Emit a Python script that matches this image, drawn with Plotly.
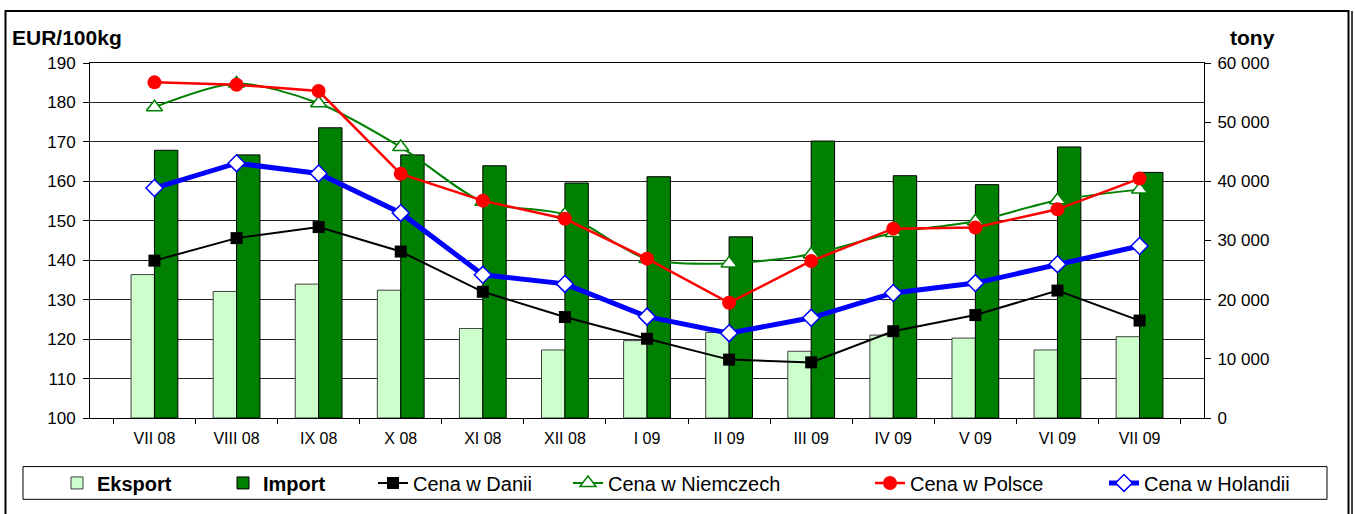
import plotly.graph_objects as go

categories = ["VII 08", "VIII 08", "IX 08", "X 08", "XI 08", "XII 08", "I 09",
              "II 09", "III 09", "IV 09", "V 09", "VI 09", "VII 09"]

eksport = [24240, 21390, 22630, 21600, 15130, 11500, 13070, 14460, 11280, 14010, 13510, 11500, 13740]
import_ = [45250, 44470, 49050, 44470, 42630, 39720, 40780, 30620, 46810, 40950, 39440, 45810, 41510]

cena_dania = [139.9, 145.6, 148.4, 142.2, 132.0, 125.6, 120.1, 114.8, 114.1, 122.0, 126.1, 132.3, 124.7]
cena_niemcy = [178.8, 184.8, 179.8, 168.7, 154.8, 151.6, 140.3, 139.2, 141.5, 146.9, 149.9, 155.2, 157.9]
cena_polska = [185.1, 184.5, 182.9, 161.9, 155.1, 150.5, 140.4, 129.2, 139.8, 148.0, 148.3, 152.9, 160.7]
cena_holandia = [158.3, 164.6, 162.0, 152.0, 136.3, 134.0, 125.7, 121.5, 125.4, 131.7, 134.2, 139.0, 143.6]

left_ticks = list(range(100, 191, 10))
right_ticks = list(range(0, 60001, 10000))

FONT = "Arial, Liberation Sans, sans-serif"

# plot area in pixels
W, H = 1355, 514
PL, PR, PT, PB = 90, 1204, 63, 421


def px_x(px):
    return (px - PL) / (PR - PL)


def px_y(py):
    return (PB - py) / (PB - PT)


fig = go.Figure()

fig.add_trace(go.Bar(x=categories, y=eksport, name="<b>Eksport</b>", yaxis="y",
                     marker=dict(color="#CCFFCC", line=dict(color="#404040", width=1)),
                     legend="legend"))
fig.add_trace(go.Bar(x=categories, y=import_, name="<b>Import</b>", yaxis="y",
                     marker=dict(color="#008000", line=dict(color="#000000", width=1)),
                     legend="legend2"))

fig.add_trace(go.Scatter(x=categories, y=cena_dania, name="Cena w Danii", yaxis="y2",
                         mode="lines+markers",
                         line=dict(color="black", width=2),
                         marker=dict(symbol="square", size=12, color="black"),
                         legend="legend3"))
fig.add_trace(go.Scatter(x=categories, y=cena_niemcy, name="Cena w Niemczech", yaxis="y2",
                         mode="lines+markers",
                         line=dict(color="#008000", width=2, shape="spline", smoothing=0.8),
                         marker=dict(symbol="triangle-up", size=14, color="white",
                                     line=dict(color="#008000", width=1.5)),
                         legend="legend4"))
fig.add_trace(go.Scatter(x=categories, y=cena_polska, name="Cena w Polsce", yaxis="y2",
                         mode="lines+markers",
                         line=dict(color="#FF0000", width=2.5),
                         marker=dict(symbol="circle", size=14, color="#FF0000"),
                         legend="legend5"))
fig.add_trace(go.Scatter(x=categories, y=cena_holandia, name="Cena w Holandii", yaxis="y2",
                         mode="lines+markers",
                         line=dict(color="#0000FF", width=5),
                         marker=dict(symbol="diamond", size=13, color="white",
                                     line=dict(color="#0000FF", width=1.5)),
                         legend="legend6"))

legend_text_starts = [98, 264, 414, 609, 911, 1145]
legend_common = dict(orientation="h", xanchor="left", yanchor="middle",
                     y=px_y(486.5), bgcolor="rgba(0,0,0,0)", borderwidth=0,
                     font=dict(family=FONT, size=20, color="black"))
legends = {}
for i, ts in enumerate(legend_text_starts):
    key = "legend" if i == 0 else f"legend{i + 1}"
    legends[key] = dict(x=px_x(ts - 41), **legend_common)

fig.update_layout(
    width=W, height=H, autosize=False,
    margin=dict(l=PL, r=W - PR, t=PT, b=H - PB, pad=0),
    paper_bgcolor="white", plot_bgcolor="white",
    separators=", ",
    barmode="group", bargap=0.43, bargroupgap=0,
    showlegend=True,
    font=dict(family=FONT, size=16, color="black"),
    xaxis=dict(type="category", tickson="boundaries", ticks="outside", ticklen=5,
               tickcolor="black", showline=True, linecolor="black", linewidth=1,
               mirror=True, showgrid=False, tickfont=dict(size=16),
               ticklabelstandoff=6),
    yaxis=dict(side="right", range=[0, 60000], tickvals=right_ticks, tickformat=",d",
               showgrid=False, zeroline=False, showline=True, linecolor="black",
               linewidth=1, ticks="outside", ticklen=6, tickcolor="black",
               tickfont=dict(size=17), ticklabelstandoff=3),
    yaxis2=dict(overlaying="y", side="left", range=[100, 190], tickvals=left_ticks,
                showgrid=True, gridcolor="#222222", gridwidth=1, zeroline=False,
                showline=True, linecolor="black", linewidth=1, ticks="outside",
                ticklen=6, tickcolor="black", tickfont=dict(size=17),
                ticklabelstandoff=4),
    annotations=[
        dict(text="<b>EUR/100kg</b>", xref="paper", yref="paper", x=px_x(10), y=px_y(37),
             xanchor="left", yanchor="middle", showarrow=False,
             font=dict(family=FONT, size=21, color="black")),
        dict(text="<b>tony</b>", xref="paper", yref="paper", x=px_x(1228), y=px_y(37),
             xanchor="left", yanchor="middle", showarrow=False,
             font=dict(family=FONT, size=21, color="black")),
    ],
    shapes=[
        # outer frame
        dict(type="rect", xref="paper", yref="paper", x0=px_x(5.5), x1=px_x(1348.5),
             y0=px_y(540), y1=px_y(10.5), line=dict(color="black", width=2)),
        dict(type="line", xref="paper", yref="paper", x0=px_x(1352), x1=px_x(1352),
             y0=px_y(540), y1=px_y(10.5), line=dict(color="black", width=1.5)),
        # legend box
        dict(type="rect", xref="paper", yref="paper", x0=px_x(23), x1=px_x(1327),
             y0=px_y(503), y1=px_y(470), line=dict(color="black", width=1)),
    ],
    **legends,
)

fig.write_html("out.html",
               config={"displayModeBar": False},
               post_script="document.body.style.margin='0px';document.body.style.overflow='hidden';")
